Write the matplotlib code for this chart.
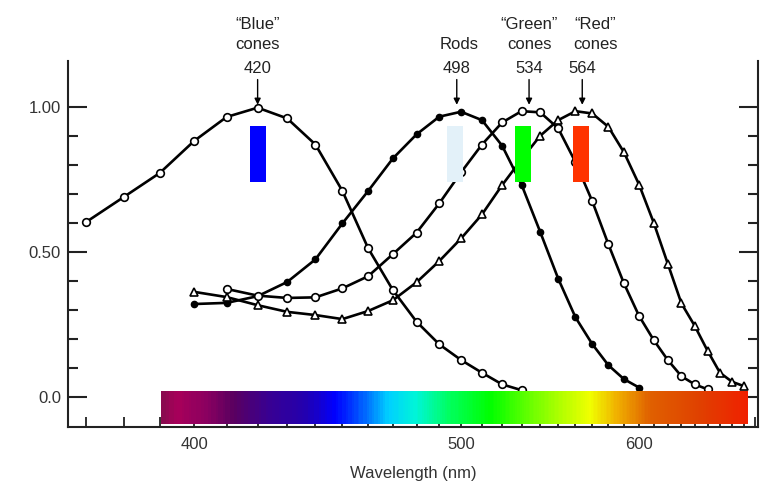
import numpy as np
import matplotlib.pyplot as plt
from matplotlib.colors import LinearSegmentedColormap

plt.rcParams['font.family'] = ['Liberation Sans', 'DejaVu Sans']

# relative absorbance, read every 10 nm
blue_nm = np.arange(370, 531, 10)
blue = [0.603, 0.690, 0.773, 0.883, 0.966, 0.998, 0.961, 0.871, 0.711, 0.513,
        0.369, 0.260, 0.182, 0.128, 0.084, 0.044, 0.024]

rods_nm = np.arange(400, 601, 10)
rods = [0.321, 0.325, 0.348, 0.397, 0.475, 0.599, 0.711, 0.823, 0.906, 0.967,
        0.984, 0.955, 0.867, 0.733, 0.570, 0.409, 0.275, 0.183, 0.110, 0.062, 0.033]

green_nm = np.arange(410, 651, 10)
green = [0.373, 0.350, 0.342, 0.344, 0.375, 0.417, 0.493, 0.567, 0.668, 0.775,
         0.871, 0.947, 0.986, 0.982, 0.927, 0.810, 0.676, 0.527, 0.392, 0.280,
         0.197, 0.128, 0.072, 0.044, 0.027]

red_nm = np.arange(400, 681, 10)
red = [0.363, 0.345, 0.317, 0.294, 0.283, 0.269, 0.297, 0.334, 0.396, 0.469,
       0.547, 0.630, 0.731, 0.820, 0.901, 0.955, 0.986, 0.978, 0.932, 0.844,
       0.733, 0.602, 0.460, 0.323, 0.246, 0.160, 0.084, 0.053, 0.038]

peak_nm = [420, 498, 534, 564]
peak_names = ['\u201cBlue\u201d\ncones', 'Rods', '\u201cGreen\u201d\ncones', '\u201cRed\u201d\ncones']
name_nm = [420, 499, 534, 572]

swatch_nm = [420, 497, 531, 563]
swatch_colors = ['#0000ff', '#e3f1f9', '#00ff00', '#ff3300']

spec_nm = [390.4, 394.4, 403.3, 411.7, 422.5, 436.3, 447.2, 457.6, 468.0, 479.4,
           494.0, 514.0, 536.1, 551.1, 568.7, 585.5, 607.5, 644.2, 683.7]
spec_colors = ['#8b0a50', '#a8005a', '#8a0060', '#5a0060', '#3a0090', '#2200b0',
               '#0000ff', '#0060ff', '#00d0ff', '#00f5d8', '#00ff60', '#00ff00',
               '#70ff00', '#b0ff00', '#f0ff00', '#f0b000', '#e06000', '#e04000',
               '#f02000']

xticks = np.arange(370, 691, 10)


def fwd(l):
    with np.errstate(divide='ignore', invalid='ignore'):
        return -1e4 / np.asarray(l, dtype=float)


def inv(v):
    with np.errstate(divide='ignore', invalid='ignore'):
        return -1e4 / np.asarray(v, dtype=float)


fig = plt.figure(figsize=(7.74, 4.86), dpi=100)
ax = fig.add_axes([0.0879, 0.1214, 0.8915, 0.7531])
ax.set_xscale('function', functions=(fwd, inv))
ax.set_xlim(365.5, 692.6)
ax.set_ylim(-0.103, 1.159)

lw = 1.9
ax.plot(blue_nm, blue, '-o', color='black', lw=lw, ms=5.5, mfc='white', mec='black', mew=1.2, zorder=3)
ax.plot(rods_nm, rods, '-o', color='black', lw=lw, ms=4.5, mfc='black', mec='black', zorder=3)
ax.plot(green_nm, green, '-o', color='black', lw=lw, ms=5.5, mfc='white', mec='black', mew=1.2, zorder=3)
ax.plot(red_nm, red, '-^', color='black', lw=lw, ms=6, mfc='white', mec='black', mew=1.2, zorder=3)

# coloured swatches under each peak
for c, col in zip(swatch_nm, swatch_colors):
    u = 1e4 / c
    left, right = 1e4 / (u + 0.15), 1e4 / (u - 0.15)
    ax.fill_between([left, right], 0.742, 0.935, color=col, lw=0, zorder=5)

# spectrum strip
cpos = [(s - spec_nm[0]) / (spec_nm[-1] - spec_nm[0]) for s in spec_nm]
cmap = LinearSegmentedColormap.from_list('spec', list(zip(cpos, spec_colors)))
edges = np.linspace(spec_nm[0], spec_nm[-1], 400)
mids = (edges[:-1] + edges[1:]) / 2
ax.pcolormesh(edges, [-0.093, 0.021], mids[None, :], cmap=cmap,
              vmin=spec_nm[0], vmax=spec_nm[-1], shading='flat', zorder=6)

# labels and arrows
for p, name, nx in zip(peak_nm, peak_names, name_nm):
    ax.text(p, 1.107, str(p), ha='center', va='bottom', fontsize=12, color='#222222', clip_on=False)
    ax.text(nx, 1.19, name, ha='center', va='bottom', fontsize=12, color='#222222',
            linespacing=1.4, clip_on=False)
    ax.annotate('', xy=(p, 1.008), xytext=(p, 1.095),
                arrowprops=dict(arrowstyle='-|>', color='black', lw=1.0, mutation_scale=9,
                                shrinkA=0, shrinkB=0), annotation_clip=False)

# axes styling
ax.spines['top'].set_visible(False)
for s in ['left', 'right', 'bottom']:
    ax.spines[s].set_linewidth(1.5)
    ax.spines[s].set_color('#222222')

ax.set_xticks(xticks)
ax.set_xticklabels([str(t) if t in (400, 500, 600) else '' for t in xticks])
ax.xaxis.set_minor_locator(plt.NullLocator())
ax.tick_params(axis='x', direction='in', length=7, width=1.3, color='#222222',
               labelsize=12, pad=7, labelcolor='#333333')

ax.set_yticks([0.0, 0.5, 1.0])
ax.set_yticklabels(['0.0', '0.50', '1.00'])
ax.set_yticks(np.arange(0.1, 1.0, 0.1), minor=True)
ax.tick_params(axis='y', which='major', direction='in', length=14, width=1.5,
               color='#222222', labelsize=12, pad=5, labelcolor='#333333',
               right=True)
ax.tick_params(axis='y', which='minor', direction='in', length=7, width=1.5,
               color='#222222', right=True)

ax.set_xlabel('Wavelength (nm)', fontsize=12, color='#333333', labelpad=10)

fig.savefig('out.png', dpi=100)
